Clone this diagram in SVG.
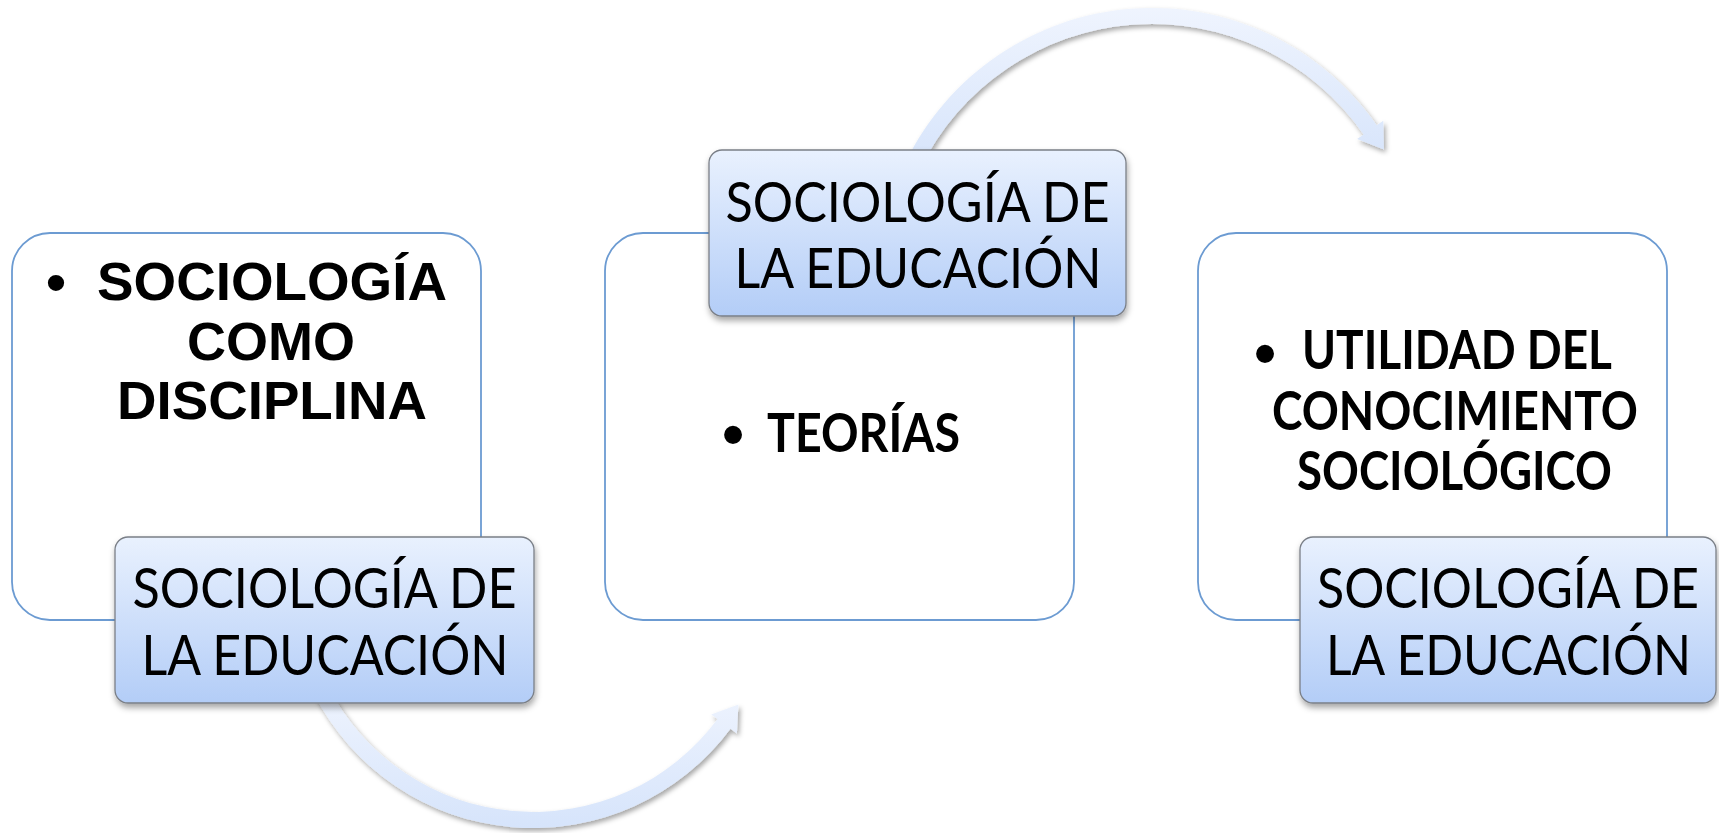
<svg xmlns="http://www.w3.org/2000/svg" width="1719" height="833" viewBox="0 0 1719 833">
<defs>
<style>
.panel{fill:#ffffff;stroke:#6c9bd2;stroke-width:1.8}
.label{fill:url(#blueGrad);stroke:#7a7f87;stroke-width:1.3;filter:url(#shadow)}
.arrow{fill:url(#arrowGrad);filter:url(#ashadow)}
.lt{font-family:Lato,"Open Sans",sans-serif;font-size:56px;fill:#000;text-anchor:middle}
.bt{font-family:"Liberation Sans",Arial,sans-serif;font-weight:bold;font-size:54px;fill:#000;text-anchor:middle}
.ct{font-family:Lato,"Open Sans",sans-serif;font-weight:bold;font-size:53px;fill:#000;text-anchor:middle}
.bul{font-family:"Liberation Sans",Arial,sans-serif;fill:#000;text-anchor:middle}
</style>
<linearGradient id="blueGrad" x1="0" y1="0" x2="0" y2="1">
<stop offset="0" stop-color="#e9f1fe"/>
<stop offset="1" stop-color="#b3cdf7"/>
</linearGradient>
<linearGradient id="arrowGrad" x1="0" y1="0" x2="0" y2="1">
<stop offset="0" stop-color="#eff4fe"/>
<stop offset="1" stop-color="#d6e4fb"/>
</linearGradient>
<filter id="shadow" x="-10%" y="-10%" width="120%" height="130%">
<feDropShadow dx="1" dy="4" stdDeviation="3" flood-color="#000" flood-opacity="0.35"/>
</filter>
<filter id="ashadow" x="-10%" y="-10%" width="120%" height="130%">
<feDropShadow dx="2" dy="3" stdDeviation="2.5" flood-color="#000" flood-opacity="0.35"/>
</filter>
</defs>
<rect width="1719" height="833" fill="#ffffff"/>

<g id="node-1">
<rect class="panel" x="12" y="233" width="469" height="387" rx="38" ry="38"/>
<text class="bul" x="56" y="303" font-size="60">•</text>
<text class="bt" x="272" y="300" textLength="350" lengthAdjust="spacingAndGlyphs">SOCIOLOGÍA</text>
<text class="bt" x="271" y="360" textLength="168" lengthAdjust="spacingAndGlyphs">COMO</text>
<text class="bt" x="272" y="419" textLength="310" lengthAdjust="spacingAndGlyphs">DISCIPLINA</text>
</g>

<g id="node-2">
<rect class="panel" x="605" y="233" width="469" height="387" rx="38" ry="38"/>
<text class="bul" x="733" y="457" font-size="66">•</text>
<text class="ct" x="863.5" y="452" textLength="193" lengthAdjust="spacingAndGlyphs">TEORÍAS</text>
</g>

<g id="node-3">
<rect class="panel" x="1198" y="233" width="469" height="387" rx="38" ry="38"/>
<text class="bul" x="1265" y="376" font-size="66">•</text>
<text class="ct" x="1457" y="369" textLength="310" lengthAdjust="spacingAndGlyphs">UTILIDAD DEL</text>
<text class="ct" x="1455" y="430" textLength="366" lengthAdjust="spacingAndGlyphs">CONOCIMIENTO</text>
<text class="ct" x="1454.5" y="490" textLength="315" lengthAdjust="spacingAndGlyphs">SOCIOLÓGICO</text>
</g>

<g id="connectors">
<path id="arrow-1-2" class="arrow" d="M313.8,693.7 A246,246 0 0 0 730.5,728.7 L736.9,733.4 L738.4,704.6 L711.2,714.4 L717.6,719.1 A230,230 0 0 1 328.1,686.4 Z"/>
<path id="arrow-2-3" class="arrow" d="M905.7,161.9 A274,274 0 0 1 1376.7,125.2 L1383.3,120.7 L1383.9,149.5 L1357.1,139 L1363.6,134.4 A258,258 0 0 0 920.1,168.9 Z"/>
</g>

<g id="label-1">
<rect class="label" x="115" y="537" width="419" height="166" rx="13" ry="13"/>
<text class="lt" x="324.5" y="608" textLength="384" lengthAdjust="spacingAndGlyphs">SOCIOLOGÍA DE</text>
<text class="lt" x="325" y="675" textLength="367" lengthAdjust="spacingAndGlyphs">LA EDUCACIÓN</text>
</g>

<g id="label-2">
<rect class="label" x="709" y="150" width="417" height="166" rx="13" ry="13"/>
<text class="lt" x="917.5" y="222" textLength="384" lengthAdjust="spacingAndGlyphs">SOCIOLOGÍA DE</text>
<text class="lt" x="918" y="288" textLength="367" lengthAdjust="spacingAndGlyphs">LA EDUCACIÓN</text>
</g>

<g id="label-3">
<rect class="label" x="1300" y="537" width="416" height="166" rx="13" ry="13"/>
<text class="lt" x="1508" y="608" textLength="382" lengthAdjust="spacingAndGlyphs">SOCIOLOGÍA DE</text>
<text class="lt" x="1508.5" y="675" textLength="365" lengthAdjust="spacingAndGlyphs">LA EDUCACIÓN</text>
</g>
</svg>
